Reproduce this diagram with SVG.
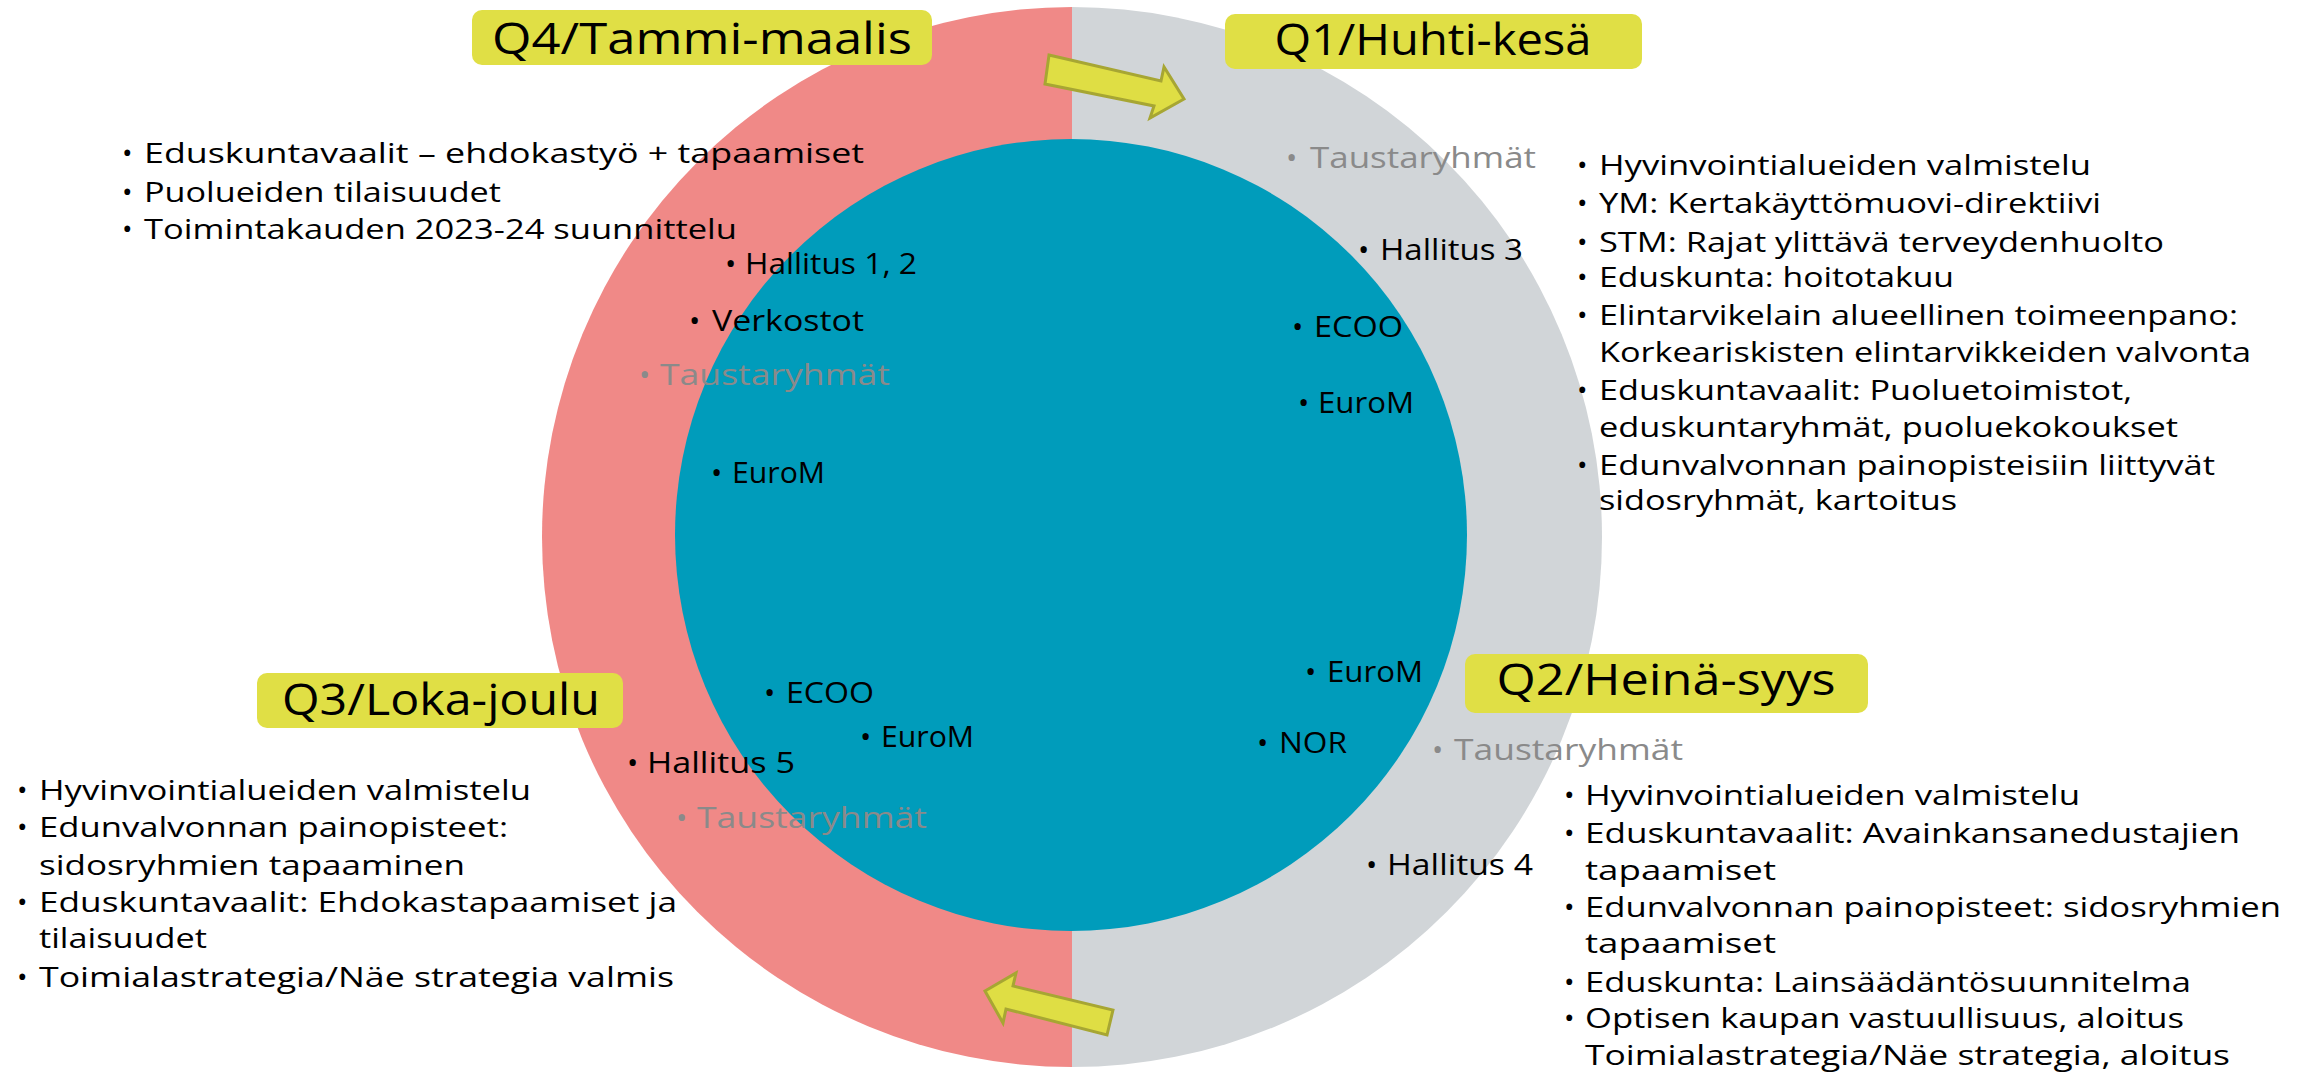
<svg xmlns="http://www.w3.org/2000/svg" width="2308" height="1073" viewBox="0 0 2308 1073">
<style>
text{font-family:"Open Sans","Noto Sans","DejaVu Sans",sans-serif;fill:#000;font-weight:500;}
.t{font-size:44px;text-anchor:middle;}
.l{font-size:28px;}
.n{font-size:30px;}
.g{fill:#8a8a8a;}
.box{fill:#E0DF45;}
.arrow{fill:#DFDE44;stroke:#A7A633;stroke-width:3;stroke-linejoin:miter;}
</style>
<rect width="2308" height="1073" fill="#fff"/>
<g id="ring">
<path d="M1072,7 A530,530 0 0 0 1072,1067 Z" fill="#F08987"/>
<path d="M1072,7 A530,530 0 0 1 1072,1067 Z" fill="#D1D5D8"/>
</g>
<g id="core"><circle cx="1071" cy="535" r="396" fill="#009CBB"/></g>

<g id="connectors">
<polygon class="arrow" points="1049,55 1161,81 1164,67 1184,99 1150,118 1154,106 1045,84"/>
<polygon class="arrow" points="1113,1010 1107,1035 1006,1009 1003,1023 985,991 1016,973 1013,986"/>
</g>

<g id="q4-title"><rect class="box" x="472" y="10" width="460" height="55" rx="10"/><text class="t" x="702" y="54" textLength="420" lengthAdjust="spacingAndGlyphs">Q4/Tammi-maalis</text></g>
<g id="q1-title"><rect class="box" x="1225" y="14" width="417" height="55" rx="10"/><text class="t" x="1433" y="55" textLength="317" lengthAdjust="spacingAndGlyphs">Q1/Huhti-kesä</text></g>
<g id="q2-title"><rect class="box" x="1465" y="654" width="403" height="59" rx="10"/><text class="t" x="1666" y="695" textLength="339" lengthAdjust="spacingAndGlyphs">Q2/Heinä-syys</text></g>
<g id="q3-title"><rect class="box" x="257" y="673" width="366" height="55" rx="10"/><text class="t" x="441" y="715" textLength="318" lengthAdjust="spacingAndGlyphs">Q3/Loka-joulu</text></g>

<g id="q4-list" class="l">
<text x="122" y="163">•</text><text x="144" y="163" textLength="720" lengthAdjust="spacingAndGlyphs">Eduskuntavaalit – ehdokastyö + tapaamiset</text>
<text x="122" y="202">•</text><text x="144" y="202" textLength="357" lengthAdjust="spacingAndGlyphs">Puolueiden tilaisuudet</text>
<text x="122" y="239">•</text><text x="144" y="239" textLength="593" lengthAdjust="spacingAndGlyphs">Toimintakauden 2023-24 suunnittelu</text>
</g>

<g id="q4-labels" class="n">
<text x="725" y="274">•</text><text x="745" y="274" textLength="172" lengthAdjust="spacingAndGlyphs">Hallitus 1, 2</text>
<text x="689" y="331">•</text><text x="712" y="331" textLength="152" lengthAdjust="spacingAndGlyphs">Verkostot</text>
<text class="g" x="639" y="385">•</text><text class="g" x="660" y="385" textLength="230" lengthAdjust="spacingAndGlyphs">Taustaryhmät</text>
<text x="711" y="483">•</text><text x="732" y="483" textLength="93" lengthAdjust="spacingAndGlyphs">EuroM</text>
</g>

<g id="q3-labels" class="n">
<text x="764" y="703">•</text><text x="786" y="703" textLength="88" lengthAdjust="spacingAndGlyphs">ECOO</text>
<text x="860" y="747">•</text><text x="881" y="747" textLength="93" lengthAdjust="spacingAndGlyphs">EuroM</text>
<text x="627" y="773">•</text><text x="647" y="773" textLength="148" lengthAdjust="spacingAndGlyphs">Hallitus 5</text>
<text class="g" x="676" y="828">•</text><text class="g" x="697" y="828" textLength="230" lengthAdjust="spacingAndGlyphs">Taustaryhmät</text>
</g>

<g id="q1-labels" class="n">
<text class="g" x="1286" y="168">•</text><text class="g" x="1310" y="168" textLength="226" lengthAdjust="spacingAndGlyphs">Taustaryhmät</text>
<text x="1358" y="260">•</text><text x="1380" y="260" textLength="143" lengthAdjust="spacingAndGlyphs">Hallitus 3</text>
<text x="1292" y="337">•</text><text x="1314" y="337" textLength="89" lengthAdjust="spacingAndGlyphs">ECOO</text>
<text x="1298" y="413">•</text><text x="1318" y="413" textLength="96" lengthAdjust="spacingAndGlyphs">EuroM</text>
</g>

<g id="q2-labels" class="n">
<text x="1305" y="682">•</text><text x="1327" y="682" textLength="96" lengthAdjust="spacingAndGlyphs">EuroM</text>
<text x="1257" y="753">•</text><text x="1279" y="753" textLength="68" lengthAdjust="spacingAndGlyphs">NOR</text>
<text class="g" x="1432" y="760">•</text><text class="g" x="1454" y="760" textLength="229" lengthAdjust="spacingAndGlyphs">Taustaryhmät</text>
<text x="1366" y="875">•</text><text x="1387" y="875" textLength="146" lengthAdjust="spacingAndGlyphs">Hallitus 4</text>
</g>

<g id="q1-list" class="l">
<text x="1577" y="175">•</text><text x="1599" y="175" textLength="492" lengthAdjust="spacingAndGlyphs">Hyvinvointialueiden valmistelu</text>
<text x="1577" y="213">•</text><text x="1599" y="213" textLength="502" lengthAdjust="spacingAndGlyphs">YM: Kertakäyttömuovi-direktiivi</text>
<text x="1577" y="252">•</text><text x="1599" y="252" textLength="565" lengthAdjust="spacingAndGlyphs">STM: Rajat ylittävä terveydenhuolto</text>
<text x="1577" y="287">•</text><text x="1599" y="287" textLength="355" lengthAdjust="spacingAndGlyphs">Eduskunta: hoitotakuu</text>
<text x="1577" y="325">•</text><text x="1599" y="325" textLength="639" lengthAdjust="spacingAndGlyphs">Elintarvikelain alueellinen toimeenpano:</text>
<text x="1599" y="362" textLength="652" lengthAdjust="spacingAndGlyphs">Korkeariskisten elintarvikkeiden valvonta</text>
<text x="1577" y="400">•</text><text x="1599" y="400" textLength="533" lengthAdjust="spacingAndGlyphs">Eduskuntavaalit: Puoluetoimistot,</text>
<text x="1599" y="437" textLength="579" lengthAdjust="spacingAndGlyphs">eduskuntaryhmät, puoluekokoukset</text>
<text x="1577" y="475">•</text><text x="1599" y="475" textLength="616" lengthAdjust="spacingAndGlyphs">Edunvalvonnan painopisteisiin liittyvät</text>
<text x="1599" y="510" textLength="358" lengthAdjust="spacingAndGlyphs">sidosryhmät, kartoitus</text>
</g>

<g id="q2-list" class="l">
<text x="1564" y="805">•</text><text x="1585" y="805" textLength="495" lengthAdjust="spacingAndGlyphs">Hyvinvointialueiden valmistelu</text>
<text x="1564" y="843">•</text><text x="1585" y="843" textLength="655" lengthAdjust="spacingAndGlyphs">Eduskuntavaalit: Avainkansanedustajien</text>
<text x="1585" y="880" textLength="191" lengthAdjust="spacingAndGlyphs">tapaamiset</text>
<text x="1564" y="917">•</text><text x="1585" y="917" textLength="696" lengthAdjust="spacingAndGlyphs">Edunvalvonnan painopisteet: sidosryhmien</text>
<text x="1585" y="953" textLength="191" lengthAdjust="spacingAndGlyphs">tapaamiset</text>
<text x="1564" y="992">•</text><text x="1585" y="992" textLength="606" lengthAdjust="spacingAndGlyphs">Eduskunta: Lainsäädäntösuunnitelma</text>
<text x="1564" y="1028">•</text><text x="1585" y="1028" textLength="599" lengthAdjust="spacingAndGlyphs">Optisen kaupan vastuullisuus, aloitus</text>
<text x="1585" y="1065" textLength="645" lengthAdjust="spacingAndGlyphs">Toimialastrategia/Näe strategia, aloitus</text>
</g>

<g id="q3-list" class="l">
<text x="17" y="800">•</text><text x="39" y="800" textLength="492" lengthAdjust="spacingAndGlyphs">Hyvinvointialueiden valmistelu</text>
<text x="17" y="837">•</text><text x="39" y="837" textLength="469" lengthAdjust="spacingAndGlyphs">Edunvalvonnan painopisteet:</text>
<text x="39" y="875" textLength="426" lengthAdjust="spacingAndGlyphs">sidosryhmien tapaaminen</text>
<text x="17" y="912">•</text><text x="39" y="912" textLength="638" lengthAdjust="spacingAndGlyphs">Eduskuntavaalit: Ehdokastapaamiset ja</text>
<text x="39" y="948" textLength="168" lengthAdjust="spacingAndGlyphs">tilaisuudet</text>
<text x="17" y="987">•</text><text x="39" y="987" textLength="635" lengthAdjust="spacingAndGlyphs">Toimialastrategia/Näe strategia valmis</text>
</g>
</svg>
